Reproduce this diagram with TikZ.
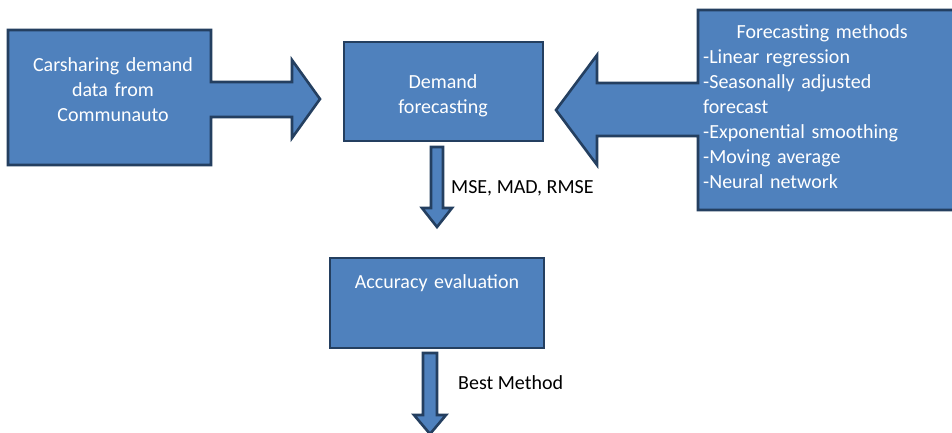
\documentclass[tikz,border=0pt]{standalone}
\usepackage{fontspec}
\setmainfont{Carlito}
\definecolor{boxfill}{HTML}{4F81BD}
\definecolor{boxline}{HTML}{243F60}
\begin{document}
\begin{tikzpicture}[x=1pt,y=-1pt,
  shp/.style={fill=boxfill,draw=boxline,line width=2.6pt,line join=miter},
  wtxt/.style={text=white,font=\fontsize{20}{25}\selectfont,inner sep=0pt,align=center},
  btxt/.style={text=black,font=\fontsize{20}{25}\selectfont,inner sep=0pt,anchor=base west}]
\useasboundingbox (0,0) rectangle (952,432);
\clip (0,0) rectangle (952,432);
\fill[white] (0,0) rectangle (952,432);
% left callout
\draw[shp] (8,30) -- (211,30) -- (211,82) -- (292,82) -- (292,60) -- (320,99) -- (292,138) -- (292,117) -- (211,117) -- (211,165) -- (8,165) -- cycle;
% demand box
\draw[shp] (344,42) rectangle (543,141);
% right callout
\draw[shp] (698,10) -- (958,10) -- (958,210) -- (698,210) -- (698,136) -- (597,136) -- (597,165) -- (556,110) -- (597,55) -- (597,83) -- (698,83) -- cycle;
% accuracy box
\draw[shp] (330,258) rectangle (544,348);
% down arrows
\draw[shp] (431,147) -- (443,147) -- (443,208) -- (452,208) -- (437,227) -- (422,208) -- (431,208) -- cycle;
\draw[shp] (423,353) -- (437,353) -- (437,415) -- (446,415) -- (430,434) -- (414,415) -- (423,415) -- cycle;
% texts
\node[wtxt,anchor=base,text width=200pt] (src) at (113,71.5) {Carsharing demand\\data from\\Communauto};
\node[wtxt,anchor=base,text width=190pt] (dem) at (443,88.5) {Demand\\forecasting};
\node[wtxt,anchor=base west,text width=240pt,align=left] (meth) at (703,38.5)
  {\makebox[238pt][c]{Forecasting methods}\\-Linear regression\\-Seasonally adjusted\\forecast\\-Exponential smoothing\\-Moving average\\-Neural network};
\node[wtxt,anchor=base,text width=210pt] (acc) at (437,288.5) {Accuracy evaluation};
\node[btxt] (err) at (451,193.5) {MSE, MAD, RMSE};
\node[btxt] (best) at (458,389.5) {Best Method};
\end{tikzpicture}
\end{document}
